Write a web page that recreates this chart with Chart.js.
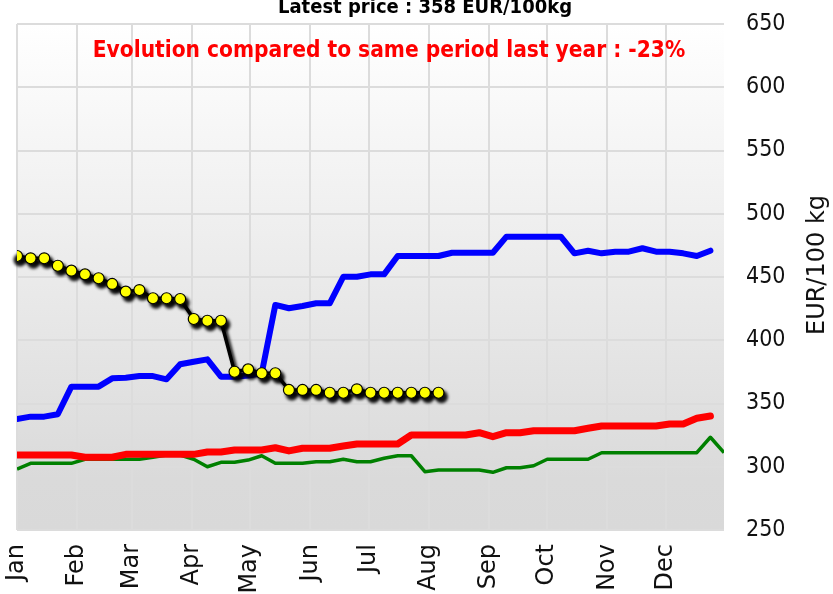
<!DOCTYPE html>
<html>
<head>
<meta charset="utf-8">
<script src="https://cdn.jsdelivr.net/npm/chart.js@4.4.1/dist/chart.umd.min.js"></script>
<style>
  html, body { margin: 0; padding: 0; background: #ffffff; }
  #c { display: block; }
</style>
</head>
<body>
<canvas id="c" width="833" height="594"></canvas>
<script>
// ---- data ----
const monthLabels = ["Jan","Feb","Mar","Apr","May","Jun","Jul","Aug","Sep","Oct","Nov","Dec"];
const monthStarts = [0,31,59,90,120,151,181,212,243,273,304,334];
const weekDays = [0,7,14,21,28,35,42,49,56,63,70,77,84,91,98,105,112,119,126,133,140,147,154,161,168,175,182,189,196,203,210,217,224,231,238,245,252,259,266,273,280,287,294,301,308,315,322,329,336,343,350,357,364];
const yTicks = [250,300,350,400,450,500,550,600,650];

const currentYear = [466.6,464.8,464.8,458.9,455.0,452.1,449.0,444.5,438.4,439.7,433.2,433.2,432.6,416.8,415.4,415.4,375.1,377.0,373.9,373.9,360.7,360.7,360.7,358.5,358.5,361.2,358.5,358.5,358.5,358.5,358.5,358.5];
const blueSeries = [337.7,339.6,339.6,341.5,363.3,363.3,363.3,369.9,370.4,371.7,371.7,369.1,381.0,383.0,384.9,371.2,371.2,372.1,373.9,427.9,425.3,427.1,429.2,429.2,450.2,450.2,452.1,452.1,466.6,466.6,466.6,466.6,469.2,469.2,469.2,469.2,481.9,481.9,481.9,481.9,481.9,468.7,470.8,468.7,470.0,470.0,472.7,470.0,470.0,468.7,466.6,470.8];
const redSeries = [309.3,309.3,309.3,309.3,309.3,307.5,307.5,307.5,309.8,309.8,309.8,309.8,309.8,309.8,311.7,311.7,313.2,313.2,313.2,315.0,312.5,314.6,314.6,314.6,316.4,318.0,318.0,318.0,318.0,325.1,325.1,325.1,325.1,325.1,326.9,323.8,326.9,326.9,328.5,328.5,328.5,328.5,330.4,332.2,332.2,332.2,332.2,332.2,333.8,333.8,338.3,340.1];
const greenSeries = [298.2,302.7,302.7,302.7,302.7,305.9,305.9,305.9,305.9,305.9,307.5,309.3,309.3,305.9,300.0,303.5,303.5,305.3,308.7,302.7,302.7,302.7,304.0,304.0,305.9,304.0,304.0,306.7,308.7,308.7,296.1,297.4,297.4,297.4,297.4,295.6,299.2,299.2,300.8,305.9,305.9,305.9,305.9,311.1,311.1,311.1,311.1,311.1,311.1,311.1,311.1,323.3,311.1];

const titleText = "Latest price : 358 EUR/100kg";
const evolutionText = "Evolution compared to same period last year : -23%";
const axisTitle = "EUR/100 kg";

const toPoints = arr => arr.map((v, i) => ({ x: weekDays[i], y: v }));

// ---- plugins ----
const bgPlugin = {
  id: 'bg',
  beforeDraw(chart) {
    const { ctx, chartArea: a } = chart;
    const g = ctx.createLinearGradient(0, a.top, 0, a.bottom);
    g.addColorStop(0, '#ffffff');
    g.addColorStop(0.9, '#dadada');
    g.addColorStop(1, '#d9d9d9');
    ctx.save();
    ctx.fillStyle = g;
    ctx.fillRect(a.left, a.top, a.right - a.left, a.bottom - a.top);
    ctx.restore();
  }
};

// soft drop shadow under the current-year series (drawn from the element positions)
const shadowPlugin = {
  id: 'shadow',
  beforeDatasetDraw(chart, args) {
    if (args.index !== 0) return;
    const ctx = chart.ctx;
    const pts = chart.getDatasetMeta(0).data;
    ctx.save();
    ctx.filter = 'blur(1.5px)';
    ctx.fillStyle = 'rgba(0,0,0,0.92)';
    ctx.strokeStyle = 'rgba(0,0,0,0.92)';
    ctx.lineWidth = 3.5;
    ctx.lineJoin = 'round';
    ctx.beginPath();
    pts.forEach((p, i) => { if (i === 0) ctx.moveTo(p.x + 3, p.y + 4); else ctx.lineTo(p.x + 3, p.y + 4); });
    ctx.stroke();
    pts.forEach(p => { ctx.beginPath(); ctx.arc(p.x + 3, p.y + 4, 6.5, 0, Math.PI * 2); ctx.fill(); });
    ctx.restore();
  }
};

const textPlugin = {
  id: 'texts',
  afterDraw(chart) {
    const ctx = chart.ctx;
    ctx.save();
    ctx.textAlign = 'center';
    ctx.textBaseline = 'alphabetic';
    ctx.fillStyle = '#000000';
    ctx.font = 'bold 20px "DejaVu Sans Condensed"';
    ctx.fillText(titleText, 425, 12.5);
    ctx.fillStyle = '#ff0000';
    ctx.font = 'bold 22.5px "DejaVu Sans Condensed"';
    ctx.fillText(evolutionText, 389, 57);
    ctx.fillStyle = '#111111';
    ctx.font = '24px "DejaVu Sans"';
    ctx.translate(818, 265);
    ctx.rotate(-Math.PI / 2);
    ctx.textBaseline = 'middle';
    ctx.fillText(axisTitle, 0, 0);
    ctx.restore();
  }
};

// ---- chart ----
new Chart(document.getElementById('c'), {
  type: 'line',
  data: {
    datasets: [
      {
        data: toPoints(currentYear),
        borderColor: '#000000',
        borderWidth: 3.5,
        pointRadius: 5.5,
        pointBackgroundColor: '#ffff00',
        pointBorderColor: '#000000',
        pointBorderWidth: 1.2,
        tension: 0,
        borderJoinStyle: 'round'
      },
      {
        data: toPoints(blueSeries),
        borderColor: '#0000ff',
        borderWidth: 6,
        pointRadius: 0,
        tension: 0,
        borderCapStyle: 'round',
        borderJoinStyle: 'round'
      },
      {
        data: toPoints(redSeries),
        borderColor: '#ff0000',
        borderWidth: 7,
        pointRadius: 0,
        tension: 0,
        borderCapStyle: 'round',
        borderJoinStyle: 'round'
      },
      {
        data: toPoints(greenSeries),
        borderColor: '#008000',
        borderWidth: 3.5,
        pointRadius: 0,
        tension: 0,
        borderJoinStyle: 'round'
      }
    ]
  },
  options: {
    responsive: false,
    animation: false,
    devicePixelRatio: 1,
    layout: { padding: { left: 17, top: 24, right: 0, bottom: 0 } },
    plugins: { legend: { display: false }, tooltip: { enabled: false }, title: { display: false } },
    scales: {
      x: {
        type: 'linear',
        min: 0,
        max: 364,
        afterBuildTicks: s => { s.ticks = monthStarts.map(v => ({ value: v })); },
        afterFit: s => { s.height = 64; },
        ticks: {
          autoSkip: false,
          maxRotation: 90,
          minRotation: 90,
          padding: 14,
          color: '#111111',
          font: { family: 'DejaVu Sans', size: 24 },
          callback: (v, i) => monthLabels[i]
        },
        grid: { color: '#dcdcdc', lineWidth: 2, drawTicks: false },
        border: { display: false }
      },
      y: {
        position: 'right',
        min: 250,
        max: 650,
        afterBuildTicks: s => { s.ticks = yTicks.map(v => ({ value: v })); },
        afterFit: s => { s.width = 109; },
        ticks: {
          padding: 2,
          color: '#111111',
          font: { family: 'DejaVu Sans Condensed', size: 23 }
        },
        grid: { color: '#dcdcdc', lineWidth: 2, drawTicks: true, tickLength: 20, tickColor: 'rgba(0,0,0,0)' },
        border: { display: false }
      }
    }
  },
  plugins: [bgPlugin, shadowPlugin, textPlugin]
});
</script>
</body>
</html>
